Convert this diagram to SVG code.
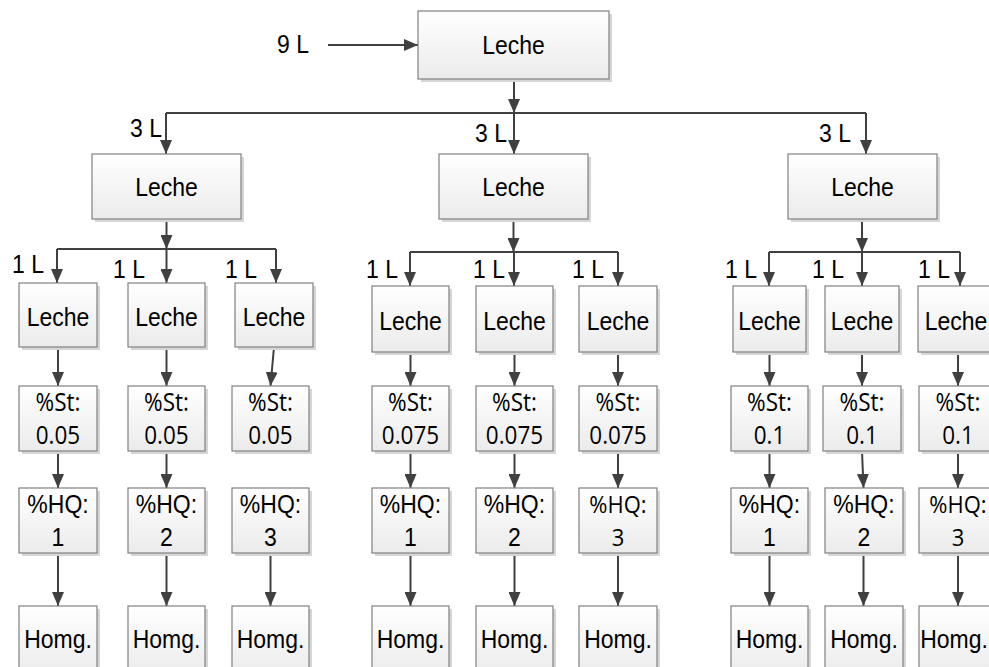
<svg xmlns="http://www.w3.org/2000/svg" width="989" height="667" viewBox="0 0 989 667">
<defs>
<linearGradient id="gf" x1="0" y1="0" x2="0" y2="1">
<stop offset="0" stop-color="#ffffff"/>
<stop offset="1" stop-color="#ebebeb"/>
</linearGradient>
<marker id="ah" markerWidth="14" markerHeight="12" refX="14" refY="6" orient="auto" markerUnits="userSpaceOnUse">
<path d="M0,0 L14,6 L0,12 z" fill="#404040"/>
</marker>
</defs>
<style>
.box{fill:url(#gf);stroke:#808080;stroke-width:1.2}
.sh{fill:#d6d6d6}
text{font-family:"Liberation Sans",Arial,sans-serif;font-size:23px;fill:#000;text-anchor:middle;transform-box:fill-box;transform-origin:center;transform:scaleY(1.1)}
.os{font-family:"Open Sans","Noto Sans",sans-serif;font-size:22.5px}
.os2{font-family:"Open Sans","Noto Sans",sans-serif;font-size:22px}
.lbl{text-anchor:start}
.c{fill:none;stroke:#404040;stroke-width:2}
.a{fill:none;stroke:#404040;stroke-width:2;marker-end:url(#ah)}
</style>
<rect width="989" height="667" fill="#ffffff"/>

<g id="connectors">
<path class="a" d="M328,45 H418"/>
<path class="a" d="M514,79 V113"/>
<path class="c" d="M166,113 H866"/>
<path class="a" d="M514,113 V154"/>
<path class="a" d="M166,113 V154"/>
<path class="a" d="M866,113 V154"/>
<path class="a" d="M166.5,219 V249"/>
<path class="c" d="M57,249 H276"/>
<path class="a" d="M57,249 V283"/>
<path class="a" d="M166.5,249 V283"/>
<path class="a" d="M276,249 V283"/>
<path class="a" d="M513.5,219 V252"/>
<path class="c" d="M410,252 H618"/>
<path class="a" d="M410,252 V286"/>
<path class="a" d="M514,252 V286"/>
<path class="a" d="M618,252 V286"/>
<path class="a" d="M862,219 V252"/>
<path class="c" d="M769,252 H960"/>
<path class="a" d="M769,252 V286"/>
<path class="a" d="M862,252 V286"/>
<path class="a" d="M960,252 V286"/>
<path class="a" d="M58,347 V386"/>
<path class="a" d="M58,451 V488"/>
<path class="a" d="M58,553 V606"/>
<path class="a" d="M166.5,347 V386"/>
<path class="a" d="M166.5,451 V488"/>
<path class="a" d="M166.5,553 V606"/>
<path class="a" d="M274,347 L270.5,386"/>
<path class="a" d="M270.5,553 V606"/>
<path class="a" d="M410.5,352 V386"/>
<path class="a" d="M410.5,451 V488"/>
<path class="a" d="M410.5,553 V606"/>
<path class="a" d="M514.5,352 V386"/>
<path class="a" d="M514.5,451 V488"/>
<path class="a" d="M514.5,553 V606"/>
<path class="a" d="M618,352 V386"/>
<path class="a" d="M618,451 V488"/>
<path class="a" d="M618,553 V606"/>
<path class="a" d="M769.5,352 V386"/>
<path class="a" d="M769.5,451 V488"/>
<path class="a" d="M769.5,553 V606"/>
<path class="a" d="M862,352 V386"/>
<path class="a" d="M862,451 L863.5,488"/>
<path class="a" d="M863.5,553 V606"/>
<path class="a" d="M958,352 V386"/>
<path class="a" d="M958,451 V488"/>
<path class="a" d="M958,553 V606"/>
</g>

<g id="labels">
<text class="lbl" x="277" y="52">9 L</text>
<text class="lbl" x="130" y="136">3 L</text>
<text class="lbl" x="475" y="141">3 L</text>
<text class="lbl" x="819" y="141">3 L</text>
<text class="lbl" x="12" y="272">1 L</text>
<text class="lbl" x="113" y="277">1 L</text>
<text class="lbl" x="225" y="277">1 L</text>
<text class="lbl" x="366" y="277">1 L</text>
<text class="lbl" x="473" y="277">1 L</text>
<text class="lbl" x="572" y="277">1 L</text>
<text class="lbl" x="725" y="277">1 L</text>
<text class="lbl" x="812" y="277">1 L</text>
<text class="lbl" x="918" y="277">1 L</text>
</g>

<g id="n-top"><rect class="sh" x="421" y="14" width="191" height="68"/><rect class="box" x="418" y="11" width="191" height="68"/><text x="513.5" y="53">Leche</text></g>

<g id="n-l"><rect class="sh" x="95" y="157" width="149" height="65"/><rect class="box" x="92" y="154" width="149" height="65"/><text x="166.5" y="195">Leche</text></g>
<g id="n-m"><rect class="sh" x="442" y="157" width="149" height="65"/><rect class="box" x="439" y="154" width="149" height="65"/><text x="513.5" y="195">Leche</text></g>
<g id="n-r"><rect class="sh" x="791" y="157" width="149" height="65"/><rect class="box" x="788" y="154" width="149" height="65"/><text x="862.5" y="195">Leche</text></g>

<g id="l1-leche"><rect class="sh" x="22" y="286" width="78" height="64"/><rect class="box" x="19" y="283" width="78" height="64"/><text x="58" y="325">Leche</text></g>
<g id="l2-leche"><rect class="sh" x="131" y="286" width="77" height="64"/><rect class="box" x="128" y="283" width="77" height="64"/><text x="166.5" y="325">Leche</text></g>
<g id="l3-leche"><rect class="sh" x="238" y="286" width="78" height="64"/><rect class="box" x="235" y="283" width="78" height="64"/><text x="274" y="325">Leche</text></g>
<g id="m1-leche"><rect class="sh" x="375" y="289" width="77" height="66"/><rect class="box" x="372" y="286" width="77" height="66"/><text x="410.5" y="329">Leche</text></g>
<g id="m2-leche"><rect class="sh" x="479" y="289" width="77" height="66"/><rect class="box" x="476" y="286" width="77" height="66"/><text x="514.5" y="329">Leche</text></g>
<g id="m3-leche"><rect class="sh" x="582" y="289" width="78" height="66"/><rect class="box" x="579" y="286" width="78" height="66"/><text x="618" y="329">Leche</text></g>
<g id="r1-leche"><rect class="sh" x="736" y="289" width="73" height="66"/><rect class="box" x="733" y="286" width="73" height="66"/><text x="769.5" y="329">Leche</text></g>
<g id="r2-leche"><rect class="sh" x="828" y="289" width="74" height="66"/><rect class="box" x="825" y="286" width="74" height="66"/><text x="862" y="329">Leche</text></g>
<g id="r3-leche"><rect class="sh" x="921" y="289" width="78" height="66"/><rect class="box" x="918" y="286" width="78" height="66"/><text x="956" y="329">Leche</text></g>

<g id="l1-st"><rect class="sh" x="22" y="389" width="78" height="65"/><rect class="box" x="19" y="386" width="78" height="65"/><text class="os" x="58" y="410">%St:</text><text class="os" x="58" y="443">0.05</text></g>
<g id="l2-st"><rect class="sh" x="131" y="389" width="77" height="65"/><rect class="box" x="128" y="386" width="77" height="65"/><text class="os" x="166.5" y="410">%St:</text><text class="os" x="166.5" y="443">0.05</text></g>
<g id="l3-st"><rect class="sh" x="235" y="389" width="77" height="65"/><rect class="box" x="232" y="386" width="77" height="65"/><text class="os" x="270.5" y="410">%St:</text><text class="os" x="270.5" y="443">0.05</text></g>
<g id="m1-st"><rect class="sh" x="375" y="389" width="77" height="65"/><rect class="box" x="372" y="386" width="77" height="65"/><text class="os" x="410.5" y="410">%St:</text><text class="os" x="410.5" y="443">0.075</text></g>
<g id="m2-st"><rect class="sh" x="479" y="389" width="77" height="65"/><rect class="box" x="476" y="386" width="77" height="65"/><text class="os" x="514.5" y="410">%St:</text><text class="os" x="514.5" y="443">0.075</text></g>
<g id="m3-st"><rect class="sh" x="582" y="389" width="78" height="65"/><rect class="box" x="579" y="386" width="78" height="65"/><text class="os" x="618" y="410">%St:</text><text class="os" x="618" y="443">0.075</text></g>
<g id="r1-st"><rect class="sh" x="734" y="389" width="77" height="65"/><rect class="box" x="731" y="386" width="77" height="65"/><text class="os" x="769.5" y="410">%St:</text><text class="os" x="769.5" y="443">0.1</text></g>
<g id="r2-st"><rect class="sh" x="826" y="389" width="78" height="65"/><rect class="box" x="823" y="386" width="78" height="65"/><text class="os" x="862" y="410">%St:</text><text class="os" x="862" y="443">0.1</text></g>
<g id="r3-st"><rect class="sh" x="922" y="389" width="78" height="65"/><rect class="box" x="919" y="386" width="78" height="65"/><text class="os" x="958" y="410">%St:</text><text class="os" x="958" y="443">0.1</text></g>

<g id="l1-hq"><rect class="sh" x="22" y="491" width="78" height="65"/><rect class="box" x="19" y="488" width="78" height="65"/><text x="58" y="512">%HQ:</text><text x="58" y="545">1</text></g>
<g id="l2-hq"><rect class="sh" x="131" y="491" width="77" height="65"/><rect class="box" x="128" y="488" width="77" height="65"/><text x="166.5" y="512">%HQ:</text><text x="166.5" y="545">2</text></g>
<g id="l3-hq"><rect class="sh" x="235" y="491" width="77" height="65"/><rect class="box" x="232" y="488" width="77" height="65"/><text x="270.5" y="512">%HQ:</text><text x="270.5" y="545">3</text></g>
<g id="m1-hq"><rect class="sh" x="375" y="491" width="77" height="65"/><rect class="box" x="372" y="488" width="77" height="65"/><text x="410.5" y="512">%HQ:</text><text x="410.5" y="545">1</text></g>
<g id="m2-hq"><rect class="sh" x="479" y="491" width="77" height="65"/><rect class="box" x="476" y="488" width="77" height="65"/><text x="514.5" y="512">%HQ:</text><text x="514.5" y="545">2</text></g>
<g id="m3-hq"><rect class="sh" x="582" y="491" width="78" height="65"/><rect class="box" x="579" y="488" width="78" height="65"/><text class="os2" x="618" y="512">%HQ:</text><text class="os2" x="618" y="545">3</text></g>
<g id="r1-hq"><rect class="sh" x="734" y="491" width="77" height="65"/><rect class="box" x="731" y="488" width="77" height="65"/><text x="769.5" y="512">%HQ:</text><text x="769.5" y="545">1</text></g>
<g id="r2-hq"><rect class="sh" x="828" y="491" width="78" height="65"/><rect class="box" x="825" y="488" width="78" height="65"/><text x="864" y="512">%HQ:</text><text x="864" y="545">2</text></g>
<g id="r3-hq"><rect class="sh" x="922" y="491" width="78" height="65"/><rect class="box" x="919" y="488" width="78" height="65"/><text class="os2" x="958" y="512">%HQ:</text><text class="os2" x="958" y="545">3</text></g>

<g id="l1-homg"><rect class="sh" x="22" y="609" width="78" height="70"/><rect class="box" x="19" y="606" width="78" height="70"/><text x="58" y="647">Homg.</text></g>
<g id="l2-homg"><rect class="sh" x="131" y="609" width="77" height="70"/><rect class="box" x="128" y="606" width="77" height="70"/><text x="166.5" y="647">Homg.</text></g>
<g id="l3-homg"><rect class="sh" x="235" y="609" width="77" height="70"/><rect class="box" x="232" y="606" width="77" height="70"/><text x="270.5" y="647">Homg.</text></g>
<g id="m1-homg"><rect class="sh" x="375" y="609" width="77" height="70"/><rect class="box" x="372" y="606" width="77" height="70"/><text x="410.5" y="647">Homg.</text></g>
<g id="m2-homg"><rect class="sh" x="479" y="609" width="77" height="70"/><rect class="box" x="476" y="606" width="77" height="70"/><text x="514.5" y="647">Homg.</text></g>
<g id="m3-homg"><rect class="sh" x="582" y="609" width="78" height="70"/><rect class="box" x="579" y="606" width="78" height="70"/><text x="618" y="647">Homg.</text></g>
<g id="r1-homg"><rect class="sh" x="734" y="609" width="77" height="70"/><rect class="box" x="731" y="606" width="77" height="70"/><text x="769.5" y="647">Homg.</text></g>
<g id="r2-homg"><rect class="sh" x="828" y="609" width="78" height="70"/><rect class="box" x="825" y="606" width="78" height="70"/><text x="864" y="647">Homg.</text></g>
<g id="r3-homg"><rect class="sh" x="922" y="609" width="78" height="70"/><rect class="box" x="919" y="606" width="78" height="70"/><text x="954" y="647">Homg.</text></g>
</svg>
